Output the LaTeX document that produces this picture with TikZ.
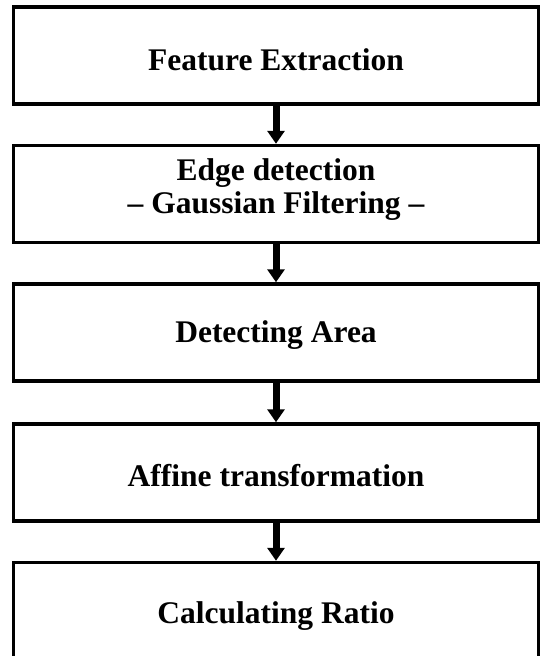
\documentclass[tikz,border=0pt]{standalone}
\usepackage{fontspec}
\setmainfont{Liberation Serif}
\usetikzlibrary{arrows.meta}
\begin{document}
\begin{tikzpicture}[x=1pt,y=-1pt,
  stepbox/.style={draw=black, line width=3.5pt, rectangle, minimum width=525pt, minimum height=97pt, inner sep=0pt},
  lbl/.style={font=\fontsize{31.5}{33}\selectfont\bfseries, align=center, inner sep=0pt},
  flow/.style={line width=7pt, -{Triangle[width=17pt,length=13pt]}}]
\useasboundingbox (0,0) rectangle (541,656);
\clip (0,0) rectangle (541,656);
\fill[white] (0,0) rectangle (541,656);
\node[stepbox] (b1) at (276,55.5) {};
\node[stepbox] (b2) at (276,194) {};
\node[stepbox] (b3) at (276,332.5) {};
\node[stepbox] (b4) at (276,472.5) {};
\node[stepbox] (b5) at (276,611) {};
\node[lbl] (t1) at ([yshift=-4pt]b1.center) {Feature Extraction};
\node[lbl] (t2) at ([yshift=4pt]b2.center) {Edge detection\\– Gaussian Filtering –};
\node[lbl] (t3) at ([yshift=-3pt]b3.center) {Detecting Area};
\node[lbl] (t4) at ([yshift=-3pt]b4.center) {Affine transformation};
\node[lbl] (t5) at ([yshift=-5pt]b5.center) {Calculating Ratio};
\draw[flow] (b1.south) -- (b2.north);
\draw[flow] (b2.south) -- (b3.north);
\draw[flow] (b3.south) -- (b4.north);
\draw[flow] (b4.south) -- (b5.north);
\end{tikzpicture}
\end{document}
